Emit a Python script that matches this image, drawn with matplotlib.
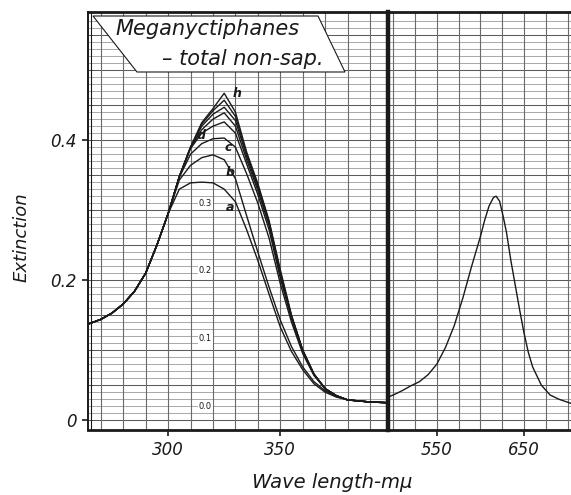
import matplotlib
matplotlib.use("Agg")
import matplotlib.pyplot as plt
from matplotlib.patches import Polygon
import numpy as np

# ultraviolet part (left panel)
wl_uv = [265, 270, 275, 280, 285, 290, 295, 300, 305, 310, 315, 320, 325,
         330, 335, 340, 345, 350, 355, 360, 365, 370, 375, 380, 390, 398]
curve_a = [0.138, 0.144, 0.153, 0.166, 0.184, 0.210, 0.250, 0.295, 0.330, 0.339, 0.340, 0.339, 0.330,
           0.312, 0.272, 0.228, 0.180, 0.133, 0.098, 0.072, 0.052, 0.040, 0.033, 0.029, 0.026, 0.025]
curve_b = [0.138, 0.144, 0.153, 0.166, 0.184, 0.210, 0.250, 0.295, 0.343, 0.364, 0.375, 0.379, 0.372,
           0.345, 0.292, 0.240, 0.190, 0.143, 0.105, 0.076, 0.055, 0.042, 0.034, 0.029, 0.026, 0.025]
curve_c = [0.138, 0.144, 0.153, 0.166, 0.184, 0.210, 0.250, 0.295, 0.347, 0.380, 0.395, 0.402, 0.403,
           0.390, 0.352, 0.310, 0.260, 0.195, 0.140, 0.095, 0.064, 0.045, 0.035, 0.029, 0.026, 0.025]
curve_d = [0.138, 0.144, 0.153, 0.166, 0.184, 0.210, 0.250, 0.295, 0.348, 0.388, 0.410, 0.420, 0.426,
           0.410, 0.366, 0.322, 0.272, 0.203, 0.145, 0.098, 0.065, 0.045, 0.035, 0.029, 0.026, 0.025]
curve_e = [0.138, 0.144, 0.153, 0.166, 0.184, 0.210, 0.250, 0.295, 0.348, 0.389, 0.415, 0.430, 0.439,
           0.420, 0.372, 0.328, 0.278, 0.207, 0.147, 0.099, 0.065, 0.045, 0.035, 0.029, 0.026, 0.025]
curve_f = [0.138, 0.144, 0.153, 0.166, 0.184, 0.210, 0.250, 0.295, 0.348, 0.390, 0.420, 0.437, 0.447,
           0.428, 0.377, 0.332, 0.281, 0.210, 0.148, 0.100, 0.066, 0.045, 0.035, 0.029, 0.026, 0.025]
curve_g = [0.138, 0.144, 0.153, 0.166, 0.184, 0.210, 0.250, 0.295, 0.348, 0.390, 0.423, 0.442, 0.457,
           0.434, 0.380, 0.335, 0.283, 0.212, 0.149, 0.100, 0.066, 0.045, 0.035, 0.029, 0.026, 0.025]
curve_h = [0.138, 0.144, 0.153, 0.166, 0.184, 0.210, 0.250, 0.295, 0.348, 0.390, 0.425, 0.445, 0.467,
           0.440, 0.383, 0.338, 0.285, 0.215, 0.150, 0.100, 0.066, 0.045, 0.035, 0.029, 0.026, 0.025]
uv_curves = [curve_a, curve_b, curve_c, curve_d, curve_e, curve_f, curve_g, curve_h]

# curve letters and where they sit
letters = ["a", "b", "c", "d", "h"]
letter_x = [327.7, 327.7, 326.8, 314.5, 330.8]
letter_y = [0.304, 0.354, 0.390, 0.407, 0.467]

# inner scale written on the paper
inner_labels = ["0.3", "0.2", "0.1", "0.0"]
inner_y = [0.309, 0.214, 0.117, 0.020]

# visible part (right panel)
wl_vis = [494, 500, 510, 520, 525, 530, 540, 550, 560, 570, 580, 590, 600, 605, 610, 615,
          618, 622, 626, 630, 635, 640, 645, 650, 655, 660, 670, 680, 690, 704]
ext_vis = [0.033, 0.036, 0.042, 0.049, 0.052, 0.055, 0.065, 0.080, 0.104, 0.135, 0.175, 0.220,
           0.262, 0.286, 0.306, 0.318, 0.320, 0.313, 0.292, 0.268, 0.228, 0.193, 0.158, 0.125,
           0.097, 0.076, 0.050, 0.036, 0.030, 0.024]

W, H = 571, 495
fig = plt.figure(figsize=(W / 100, H / 100), dpi=100)
fig.patch.set_facecolor("white")


def fx(px):
    return px / W


def fy(py):
    return 1 - py / H


bottom, top = fy(430), fy(12)
ax1 = fig.add_axes([fx(88), bottom, fx(388) - fx(88), top - bottom])
ax2 = fig.add_axes([fx(388), bottom, 1 - fx(388), top - bottom], sharey=ax1)

ylim = (-0.014, 0.583)
ink = "#1a1a1a"
font = dict(family="DejaVu Sans", style="italic", color=ink)

for ax in (ax1, ax2):
    ax.set_ylim(*ylim)
    for y in np.arange(0.0, 0.58, 0.01):
        heavy = abs(round(y * 100) % 5) == 0
        ax.axhline(y, color="#5a5a5a" if heavy else "#9a9a9a", lw=0.75 if heavy else 0.6, zorder=0)
    ax.spines["top"].set_linewidth(2.0)
    ax.spines["bottom"].set_linewidth(2.0)
    for s in ax.spines.values():
        s.set_color(ink)

ax1.set_xlim(264.3, 398)
for x in range(270, 400, 10):
    ax1.axvline(x, color="#6a6a6a", lw=0.8, zorder=0)
ax1.axvline(265.8, color=ink, lw=0.8, zorder=1)
ax2.set_xlim(494, 704)
for x in range(500, 705, 25):
    ax2.axvline(x, color="#6a6a6a", lw=0.8, zorder=0)

ax1.spines["right"].set_visible(False)
ax1.spines["left"].set_linewidth(1.4)
ax2.spines["left"].set_linewidth(3.2)
ax2.spines["right"].set_visible(False)

for ys in uv_curves:
    ax1.plot(wl_uv, ys, color=ink, lw=1.0, zorder=3)
ax2.plot(wl_vis, ext_vis, color=ink, lw=1.0, zorder=3)

for s, x, y in zip(letters, letter_x, letter_y):
    ax1.text(x, y, s, fontsize=9, fontweight="bold", ha="center", va="center", zorder=4,
             family="DejaVu Sans", style="italic", color=ink)

for s, y in zip(inner_labels, inner_y):
    ax1.text(316.5, y, s, fontsize=6, ha="center", va="center", zorder=4, color=ink,
             bbox=dict(facecolor="white", edgecolor="none", pad=0.6))

ax1.set_yticks([0, 0.2, 0.4])
ax1.set_yticklabels(["0", "0.2", "0.4"], fontdict=dict(fontsize=12, **font))
ax1.set_xticks([300, 350])
ax1.set_xticklabels(["300", "350"], fontdict=dict(fontsize=12, **font))
ax2.set_xticks([550, 650])
ax2.set_xticklabels(["550", "650"], fontdict=dict(fontsize=12, **font))
ax1.tick_params(axis="both", direction="out", length=4, width=1.2, color=ink, pad=4)
ax2.tick_params(axis="x", direction="out", length=4, width=1.2, color=ink, pad=4)
ax2.tick_params(axis="y", left=False, labelleft=False)

fig.text(fx(22), fy(237), "Extinction", rotation=90, ha="center", va="center", fontsize=13, **font)
fig.text(fx(332), fy(483), "Wave length-m\u03bc", ha="center", va="center", fontsize=14, **font)

# title patch in the upper left corner
box = Polygon([(fx(93), fy(16)), (fx(318), fy(16)), (fx(345), fy(72)), (fx(137), fy(72))],
              closed=True, transform=fig.transFigure, facecolor="white", edgecolor=ink,
              lw=0.8, zorder=5)
fig.patches.append(box)
fig.text(fx(207), fy(29), "Meganyctiphanes", ha="center", va="center", fontsize=15, zorder=6, **font)
fig.text(fx(243), fy(59), "\u2013 total non-sap.", ha="center", va="center", fontsize=15, zorder=6, **font)

fig.savefig("out.png", dpi=100)
